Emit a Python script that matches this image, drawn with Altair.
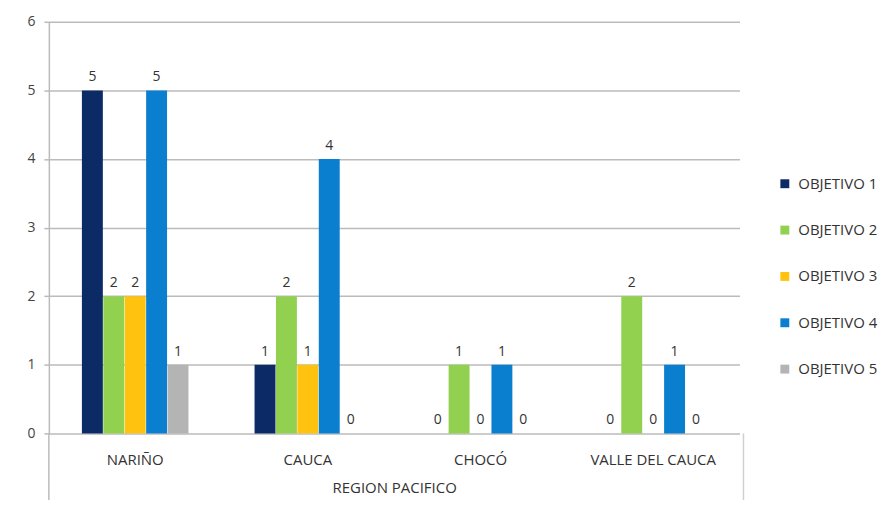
import altair as alt
import pandas as pd

regions = ["NARIÑO", "CAUCA", "CHOCÓ", "VALLE DEL CAUCA"]
series = ["OBJETIVO 1", "OBJETIVO  2", "OBJETIVO  3", "OBJETIVO  4", "OBJETIVO 5"]
obj1 = [5, 1, 0, 0]
obj2 = [2, 2, 1, 2]
obj3 = [2, 1, 0, 0]
obj4 = [5, 4, 1, 1]
obj5 = [1, 0, 0, 0]
y_ticks = [0, 1, 2, 3, 4, 5, 6]
colors = ["#0B2A66", "#92D050", "#FFC20E", "#0B7FCF", "#B4B4B4"]

rows = []
for s, vals in zip(series, [obj1, obj2, obj3, obj4, obj5]):
    for r, v in zip(regions, vals):
        rows.append({"region": r, "serie": s, "valor": v})
df = pd.DataFrame(rows)

# decorative frame below the category axis (in value units, below zero)
frame = pd.DataFrame({"side": ["left", "right"], "y0": [0.0, 0.0], "y1": [-1.05, -1.09]})

FONT = "Open Sans"
W, H = 693, 413

x = alt.X("region:N", sort=regions, title="REGION PACIFICO",
          scale=alt.Scale(paddingInner=0.38, paddingOuter=0.19),
          axis=alt.Axis(labelAngle=0, labelPadding=19, ticks=False, domain=False,
                        titlePadding=13, labelFontSize=15, titleFontSize=15,
                        labelColor="#333333", titleColor="#333333",
                        labelFont=FONT, titleFont=FONT, titleFontWeight="normal"))
y = alt.Y("valor:Q", title=None, scale=alt.Scale(domain=[0, 6], nice=False),
          axis=alt.Axis(values=y_ticks, format="d", domain=True,
                        domainColor="#BBBBBB", domainWidth=1.5,
                        gridColor="#BBBBBB", gridWidth=1.5,
                        tickColor="#BBBBBB", tickSize=5, tickWidth=1.5,
                        labelPadding=9, labelFontSize=14, labelColor="#444444",
                        labelFont=FONT, labelOverlap=False))
xo = alt.XOffset("serie:N", sort=series)
color = alt.Color("serie:N", sort=series,
                  scale=alt.Scale(domain=series, range=colors),
                  legend=alt.Legend(title=None, orient="none", legendX=731, legendY=155,
                                    symbolType="square", symbolSize=80,
                                    symbolStrokeWidth=0, rowPadding=30.5,
                                    labelFontSize=15, labelColor="#333333",
                                    labelFont=FONT, labelOffset=6))

bars = alt.Chart(df).mark_bar(size=21).encode(x=x, xOffset=xo, y=y, color=color)
labels = alt.Chart(df).mark_text(dy=-13, fontSize=14, font=FONT, color="#333333").encode(
    x=x, xOffset=xo, y=y, text="valor:Q")

frame_left = alt.Chart(frame[frame.side == "left"]).mark_rule(
    color="#BBBBBB", strokeWidth=1.5).encode(
    x=alt.value(0), y=alt.Y("y0:Q"), y2="y1:Q")
frame_right = alt.Chart(frame[frame.side == "right"]).mark_rule(
    color="#D0D0D0", strokeWidth=1.5).encode(
    x=alt.value(W + 4), y=alt.Y("y0:Q"), y2="y1:Q")

chart = alt.layer(bars, labels, frame_left, frame_right).properties(
    width=W, height=H,
    autosize=alt.AutoSizeParams(type="none"),
    padding={"left": 41, "top": 13, "right": 142, "bottom": 66},
).configure(background="white").configure_view(stroke=None)

chart.save("out.html", embed_options={"renderer": "svg", "actions": False})
